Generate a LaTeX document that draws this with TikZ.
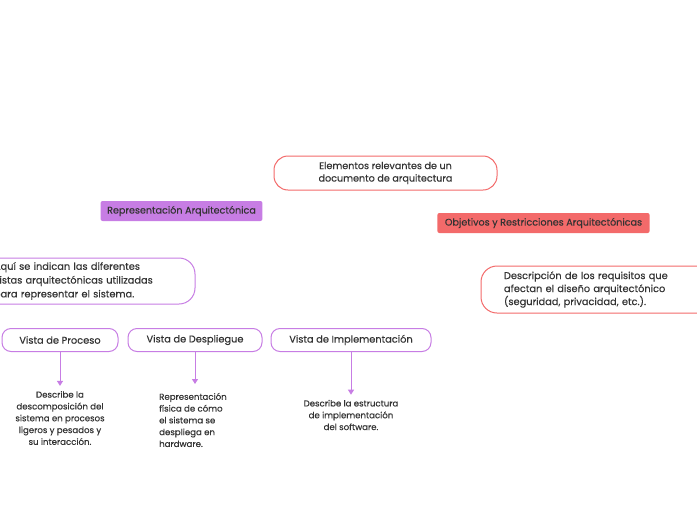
\documentclass[tikz,border=0pt]{standalone}
\usepackage{fontspec}
\setmainfont{Poppins}[FakeBold=0.3]
\usetikzlibrary{arrows.meta,backgrounds,calc}
\definecolor{redc}{HTML}{F36A6A}
\definecolor{purc}{HTML}{C77DE4}
\definecolor{txt}{HTML}{333333}
\tikzset{
  mainbox/.style={draw=redc,line width=1pt,rounded corners=14pt,fill=white,minimum width=223pt,minimum height=34pt,align=center,text=txt,font=\fontsize{9.6}{12.5}\selectfont},
  redlabel/.style={fill=redc,rounded corners=2pt,minimum height=20pt,inner xsep=7.5pt,text=txt,font=\fontsize{9.6}{10}\selectfont},
  purlabel/.style={fill=purc,rounded corners=2pt,minimum height=20pt,inner xsep=6.5pt,text=txt,font=\fontsize{9.6}{10}\selectfont},
  redbox/.style={draw=redc,line width=1pt,rounded corners=16pt,fill=white,minimum height=47pt,text=txt,font=\fontsize{9.8}{13}\selectfont},
  purbox/.style={draw=purc,line width=1pt,rounded corners=16pt,fill=white,minimum height=46pt,text=txt,font=\fontsize{9.8}{13.8}\selectfont},
  viewbox/.style={draw=purc,line width=1pt,rounded corners=9pt,fill=white,minimum height=23pt,text=txt,font=\fontsize{9.8}{10}\selectfont},
  desctext/.style={text=txt,font=\fontsize{8.6}{11.8}\selectfont,inner sep=0pt},
  redline/.style={draw=redc,line width=1pt},
  purline/.style={draw=purc,line width=1pt},
  tip/.style={-{Triangle[length=5pt,width=6pt]}}
}
\begin{document}
\begin{tikzpicture}[x=1pt,y=-1pt]
\clip (0,0) rectangle (697,520);
\fill[white] (0,0) rectangle (697,520);

\node[mainbox] (main) at (385.5,173) {Elementos relevantes de un\\documento de arquitectura};
\node[purlabel] (rep) at (181.5,211) {Representación Arquitectónica};
\node[redlabel] (obj) at (543.5,223) {Objetivos y Restricciones Arquitectónicas};
\node[redbox,minimum width=238pt,text width=192pt,align=left] (req) at (600,289.5) {Descripción de los requisitos que\\afectan el diseño arquitectónico\\(seguridad, privacidad, etc.).};
\node[purbox,minimum width=220pt,text width=182pt,align=left] (aqui) at (85,281) {Aquí se indican las diferentes\\vistas arquitectónicas utilizadas\\para representar el sistema.};

\node[viewbox,minimum width=116pt] (proc) at (60,340) {Vista de Proceso};
\node[viewbox,minimum width=134pt] (desp) at (195,340) {Vista de Despliegue};
\node[viewbox,minimum width=160pt] (impl) at (351,340) {Vista de Implementación};

\node[desctext,align=center] (dproc) at (60,418) {Describe la\\descomposición del\\sistema en procesos\\ligeros y pesados y\\su interacción.};
\node[desctext,align=left,anchor=west] (ddesp) at (159,420) {Representación\\física de cómo\\el sistema se\\despliega en\\hardware.};
\node[desctext,align=center] (dimpl) at (351,415) {Describe la estructura\\de implementación\\del software.};

\coordinate (junc) at (82,316);
\coordinate (offl) at (-5,323);

\begin{pgfonlayer}{background}
\draw[purline,tip] ($(main.west)+(0,4)$) .. controls (215,200) and (135,228) .. ($(aqui.north)+(5,0)$);
\draw[redline,tip] ($(main.south east)+(-6,-1)$) .. controls (525,208) and (575,240) .. ($(req.north)+(-6,0)$);
\draw[purline] (aqui.south -| junc) -- (junc);
\draw[purline] (junc) .. controls (60,321) and (30,322) .. (offl);
\draw[purline] (junc) .. controls (75,322) and (62,323) .. (proc.north);
\draw[purline] (junc) .. controls (120,319) and (185,320) .. (desp.north);
\draw[purline] (junc) .. controls (150,318) and (330,320) .. (impl.north);
\end{pgfonlayer}

\draw[purline,tip] (proc.south) -- ($(dproc.north)+(0,-5)$);
\draw[purline,tip] (desp.south) -- (195,384);
\draw[purline,tip] (impl.south) -- ($(dimpl.north)+(0,-5)$);
\end{tikzpicture}
\end{document}
